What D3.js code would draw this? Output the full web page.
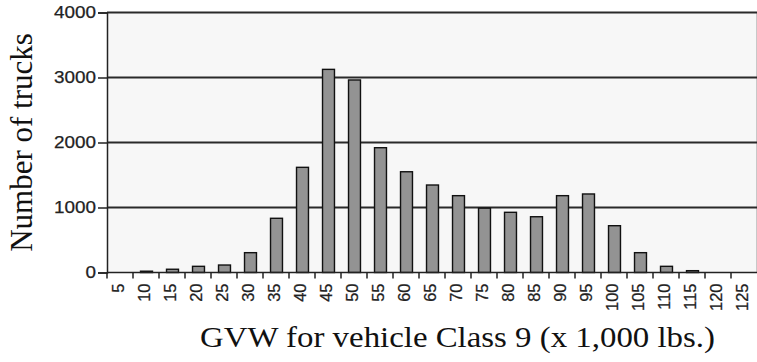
<!DOCTYPE html>
<html>
<head>
<meta charset="utf-8">
<script src="https://cdn.jsdelivr.net/npm/d3@7"></script>
<style>
  html, body { margin: 0; padding: 0; background: #ffffff; }
  svg { display: block; }
</style>
</head>
<body>
<svg id="chart" width="757" height="362"></svg>
<script>
// Gross vehicle weight bins (x 1,000 lbs.)
const categories = ["5","10","15","20","25","30","35","40","45","50","55","60","65",
                    "70","75","80","85","90","95","100","105","110","115","120","125"];
// Truck counts per bin
const trucks = [0, 20, 50, 95, 115, 305, 834, 1618, 3125, 2962, 1920, 1550, 1346,
                1182, 990, 926, 858, 1182, 1208, 720, 305, 95, 28, 0, 0];
const yTicks = [0, 1000, 2000, 3000, 4000];
const yTitle = "Number of trucks";
const xTitle = "GVW for vehicle Class 9 (x 1,000 lbs.)";

const svg = d3.select("#chart");
const plotLeft = 107, plotRight = 757, plotTop = 12.5, plotBottom = 272.5;

const x = d3.scaleBand().domain(categories).range([plotLeft, plotRight]).paddingInner(0.54).paddingOuter(0.27);
const xEdge = d3.scaleBand().domain(categories).range([plotLeft, plotRight]);
const y = d3.scaleLinear().domain([0, 4000]).range([plotBottom, plotTop]);

// plot background
svg.append("rect")
  .attr("x", plotLeft).attr("y", plotTop)
  .attr("width", plotRight - plotLeft).attr("height", plotBottom - plotTop)
  .attr("fill", "#f7f7f7");

// right border
svg.append("line")
  .attr("x1", plotRight - 0.5).attr("x2", plotRight - 0.5)
  .attr("y1", plotTop).attr("y2", plotBottom)
  .attr("stroke", "#c8c8c8").attr("stroke-width", 1);

// horizontal gridlines
svg.append("g").selectAll("line")
  .data(yTicks.filter(d => d > 0))
  .join("line")
  .attr("x1", plotLeft).attr("x2", plotRight)
  .attr("y1", d => y(d)).attr("y2", d => y(d))
  .attr("stroke", "#2a2a2a").attr("stroke-width", 1.8);

// bars
svg.append("g").selectAll("rect")
  .data(categories.map((c, i) => ({ c, v: trucks[i] })).filter(d => d.v > 0))
  .join("rect")
  .attr("x", d => x(d.c) + 0.5)
  .attr("y", d => y(d.v))
  .attr("width", x.bandwidth())
  .attr("height", d => plotBottom - y(d.v))
  .attr("fill", "#939393")
  .attr("stroke", "#111")
  .attr("stroke-width", 1.4);

// y axis
const yAxis = svg.append("g")
  .attr("transform", `translate(${plotLeft},0)`)
  .call(d3.axisLeft(y).tickValues(yTicks).tickSize(9).tickPadding(2).tickFormat(d3.format("d")));
yAxis.select(".domain").attr("stroke", "#222").attr("stroke-width", 1.5);
yAxis.selectAll(".tick line").attr("stroke", "#222").attr("stroke-width", 1.5);
yAxis.selectAll(".tick text")
  .attr("font-family", "'Liberation Sans', Arial, sans-serif")
  .attr("font-size", 16)
  .attr("fill", "#222")
  .attr("stroke", "#222").attr("stroke-width", 0.25)
  .attr("textLength", d => String(d).length * 10.5)
  .attr("lengthAdjust", "spacingAndGlyphs");

// x axis (ticks at bin edges)
const xAxisG = svg.append("g").attr("transform", `translate(0,${plotBottom})`);
xAxisG.append("line")
  .attr("x1", plotLeft).attr("x2", plotRight)
  .attr("stroke", "#222").attr("stroke-width", 1.5);
xAxisG.selectAll("line.tk")
  .data(categories)
  .join("line")
  .attr("class", "tk")
  .attr("x1", d => xEdge(d)).attr("x2", d => xEdge(d))
  .attr("y1", 0).attr("y2", 6)
  .attr("stroke", "#222").attr("stroke-width", 1.5);
xAxisG.selectAll("text")
  .data(categories)
  .join("text")
  .attr("transform", d => `translate(${xEdge(d) + xEdge.bandwidth() / 2 + 4},11) rotate(-90)`)
  .attr("text-anchor", "end")
  .attr("font-family", "'Liberation Sans', Arial, sans-serif")
  .attr("font-size", 16.5)
  .attr("fill", "#222")
  .attr("stroke", "#222").attr("stroke-width", 0.25)
  .text(d => d);

// axis titles
svg.append("text")
  .attr("transform", `translate(32,${(plotTop + plotBottom) / 2}) rotate(-90)`)
  .attr("text-anchor", "middle")
  .attr("font-family", "'Liberation Serif', 'Times New Roman', serif")
  .attr("font-size", 31)
  .attr("fill", "#111")
  .text(yTitle);

svg.append("text")
  .attr("x", 200).attr("y", 347)
  .attr("font-family", "'Liberation Serif', 'Times New Roman', serif")
  .attr("font-size", 30)
  .attr("fill", "#111")
  .attr("textLength", 515)
  .attr("lengthAdjust", "spacingAndGlyphs")
  .text(xTitle);
</script>
</body>
</html>
